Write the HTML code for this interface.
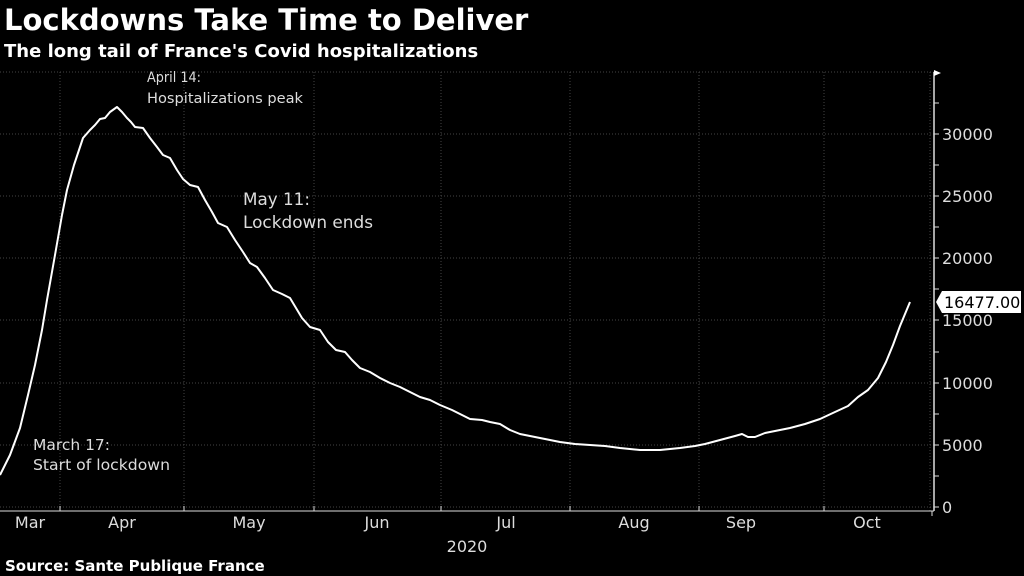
<!DOCTYPE html>
<html><head><meta charset="utf-8"><style>
body{margin:0;background:#000;width:1024px;height:576px;overflow:hidden;font-family:"Liberation Sans",sans-serif}
</style></head><body>
<svg width="1024" height="576" xmlns="http://www.w3.org/2000/svg" style="position:absolute;left:0;top:0">
<rect width="1024" height="576" fill="#000"/>
<text x="4" y="30" fill="#fff" font-size="29" font-weight="bold" font-family="DejaVu Sans, sans-serif">Lockdowns Take Time to Deliver</text>
<text x="4" y="57" fill="#fff" font-size="18" font-weight="bold" font-family="DejaVu Sans, sans-serif">The long tail of France's Covid hospitalizations</text>
<g stroke="#444" stroke-width="1" stroke-dasharray="1,2">
<line x1="0" y1="72" x2="934" y2="72"/>
<line x1="0" y1="134" x2="934" y2="134"/>
<line x1="0" y1="196" x2="934" y2="196"/>
<line x1="0" y1="258" x2="934" y2="258"/>
<line x1="0" y1="320" x2="934" y2="320"/>
<line x1="0" y1="383" x2="934" y2="383"/>
<line x1="0" y1="445" x2="934" y2="445"/>
<line x1="0" y1="507" x2="934" y2="507"/>
<line x1="60" y1="72" x2="60" y2="511"/>
<line x1="184" y1="72" x2="184" y2="511"/>
<line x1="314" y1="72" x2="314" y2="511"/>
<line x1="441" y1="72" x2="441" y2="511"/>
<line x1="570" y1="72" x2="570" y2="511"/>
<line x1="699" y1="72" x2="699" y2="511"/>
<line x1="824" y1="72" x2="824" y2="511"/>
<line x1="930" y1="72" x2="930" y2="511"/>
</g>
<line x1="0" y1="511" x2="934" y2="511" stroke="#ddd" stroke-width="1"/>
<line x1="934" y1="72" x2="934" y2="511" stroke="#ddd" stroke-width="1.5"/>
<polygon points="934,70 941,73 934,76" fill="#fff"/>
<g stroke="#ddd">
<line x1="60" y1="511" x2="60" y2="506"/><line x1="184" y1="511" x2="184" y2="506"/><line x1="314" y1="511" x2="314" y2="506"/><line x1="441" y1="511" x2="441" y2="506"/><line x1="570" y1="511" x2="570" y2="506"/><line x1="699" y1="511" x2="699" y2="506"/><line x1="824" y1="511" x2="824" y2="506"/><line x1="932" y1="511" x2="932" y2="516"/>
<line x1="934" y1="103" x2="939" y2="103"/><line x1="934" y1="134" x2="939" y2="134"/><line x1="934" y1="165" x2="939" y2="165"/><line x1="934" y1="196" x2="939" y2="196"/><line x1="934" y1="227" x2="939" y2="227"/><line x1="934" y1="258" x2="939" y2="258"/><line x1="934" y1="289" x2="939" y2="289"/><line x1="934" y1="320" x2="939" y2="320"/><line x1="934" y1="352" x2="939" y2="352"/><line x1="934" y1="383" x2="939" y2="383"/><line x1="934" y1="414" x2="939" y2="414"/><line x1="934" y1="445" x2="939" y2="445"/><line x1="934" y1="476" x2="939" y2="476"/><line x1="934" y1="507" x2="939" y2="507"/>
</g>
<g fill="#ddd" font-size="16" font-family="DejaVu Sans, sans-serif">
<text x="942" y="140">30000</text><text x="942" y="202">25000</text><text x="942" y="264">20000</text><text x="942" y="326">15000</text><text x="942" y="389">10000</text><text x="942" y="451">5000</text><text x="942" y="513">0</text>
<text x="30" y="528" text-anchor="middle">Mar</text><text x="122" y="528" text-anchor="middle">Apr</text><text x="249" y="528" text-anchor="middle">May</text><text x="377" y="528" text-anchor="middle">Jun</text><text x="506" y="528" text-anchor="middle">Jul</text><text x="634" y="528" text-anchor="middle">Aug</text><text x="741" y="528" text-anchor="middle">Sep</text><text x="867" y="528" text-anchor="middle">Oct</text>
<text x="467" y="552" text-anchor="middle">2020</text>
</g>
<polygon points="936,302 942,291 1021,291 1021,313 942,313" fill="#fff"/>
<text x="944" y="308" fill="#000" font-size="16" font-family="DejaVu Sans, sans-serif">16477.00</text>
<polyline fill="none" stroke="#fff" stroke-width="2" stroke-linejoin="round" points="0,475 10,455 20,428 28,395 35,365 42,330 47,300 55,255 62,215 67,190 74,165 83,138 90,130 95,125 100,119 105,118 110,112 117,107 122,112 127,118 131,122 135,127 143,128 150,138 157,147 163,155 170,158 177,170 183,179 190,185 198,187 205,200 212,212 218,223 227,227 235,240 243,252 250,263 257,267 265,278 273,290 282,294 290,298 296,308 302,318 310,327 320,330 328,342 336,350 345,352 352,360 360,368 370,372 380,378 390,383 400,387 410,392 420,397 430,400 440,405 452,410 462,415 470,419 482,420 490,422 500,424 510,430 520,434 530,436 545,439 560,442 575,444 590,445 605,446 620,448 640,450 660,450 680,448 695,446 705,444 720,440 735,436 742,434 748,437 755,437 765,433 775,431 790,428 805,424 820,419 835,412 848,406 858,397 868,390 878,378 886,362 893,345 900,326 910,302"/>
<g fill="#ddd" font-family="DejaVu Sans, sans-serif">
<text x="147" y="82" font-size="14" textLength="54" lengthAdjust="spacingAndGlyphs">April 14:</text>
<text x="147" y="103" font-size="14" textLength="156" lengthAdjust="spacingAndGlyphs">Hospitalizations peak</text>
<text x="243" y="205" font-size="17" textLength="67" lengthAdjust="spacingAndGlyphs">May 11:</text>
<text x="243" y="228" font-size="17" textLength="130" lengthAdjust="spacingAndGlyphs">Lockdown ends</text>
<text x="33" y="450" font-size="15" textLength="77" lengthAdjust="spacingAndGlyphs">March 17:</text>
<text x="33" y="470" font-size="15" textLength="137" lengthAdjust="spacingAndGlyphs">Start of lockdown</text>
</g>
<text x="5" y="571" fill="#fff" font-size="15" font-weight="bold" font-family="DejaVu Sans, sans-serif">Source: Sante Publique France</text>
</svg>
</body></html>
